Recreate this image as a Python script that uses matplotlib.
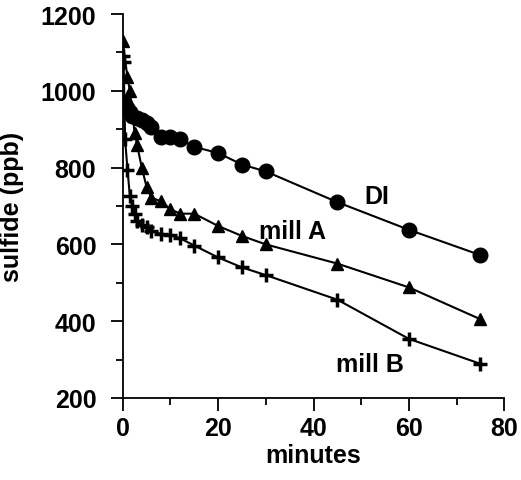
import matplotlib
matplotlib.use("Agg")
import matplotlib.pyplot as plt
from matplotlib.ticker import MultipleLocator

# sulfide (ppb) vs minutes
di_t = [0, 0.5, 1, 1.5, 2, 3, 4, 5, 6, 8, 10, 12, 15, 20, 25, 30, 45, 60, 75]
di_v = [970, 965, 955, 945, 935, 930, 925, 915, 905, 880, 880, 874, 854, 838, 808, 790, 710, 638, 572]

mill_a_t = [0, 1, 1.5, 2.5, 3, 4, 5, 6, 8, 10, 12, 15, 20, 25, 30, 45, 60, 75]
mill_a_v = [1130, 1035, 1000, 890, 860, 800, 750, 722, 712, 692, 680, 680, 648, 622, 600, 550, 488, 405]

mill_b_t = [0, 0.2, 0.5, 1, 1.5, 2, 2.5, 3, 4, 5, 6, 8, 10, 12, 15, 20, 25, 30, 45, 60, 75]
mill_b_v = [1090, 1075, 875, 795, 727, 700, 680, 662, 650, 645, 636, 627, 625, 616, 597, 566, 540, 520, 456, 354, 289]

labels = ["DI", "mill A", "mill B"]
label_pos = [(53.2, 727), (35.7, 636), (51.9, 289)]

plt.rcParams["font.family"] = ["Liberation Sans", "DejaVu Sans"]
plt.rcParams["font.weight"] = "bold"

fig = plt.figure(figsize=(5.21, 4.81), dpi=100)
ax = fig.add_axes([0.2355, 0.1705, 0.7325, 0.7983])

line_kw = dict(color="black", linewidth=1.5)
ax.plot(di_t, di_v, marker="o", markersize=10.5, **line_kw)
ax.plot(mill_a_t, mill_a_v, marker="^", markersize=8, **line_kw)
ax.plot(mill_b_t, mill_b_v, marker="+", markersize=10, markeredgewidth=2.5, **line_kw)

for text, (x, y) in zip(labels, label_pos):
    ax.text(x, y, text, ha="center", va="center", fontsize=18, fontweight="bold")

ax.set_xlim(0, 80)
ax.set_ylim(200, 1200)
ax.xaxis.set_major_locator(MultipleLocator(20))
ax.xaxis.set_minor_locator(MultipleLocator(10))
ax.yaxis.set_major_locator(MultipleLocator(200))
ax.yaxis.set_minor_locator(MultipleLocator(100))

for side in ("top", "right"):
    ax.spines[side].set_visible(False)
for side in ("left", "bottom"):
    ax.spines[side].set_linewidth(1.3)

ax.tick_params(which="major", direction="out", length=9, width=1.3, labelsize=18, pad=4)
ax.tick_params(which="minor", direction="out", length=5, width=1.3)
ax.tick_params(axis="y", which="major", pad=10)

ax.set_xlabel("minutes", fontsize=18, fontweight="bold", labelpad=2)
ax.set_ylabel("sulfide (ppb)", fontsize=18, fontweight="bold", labelpad=12)

fig.savefig("out.png", dpi=100)
